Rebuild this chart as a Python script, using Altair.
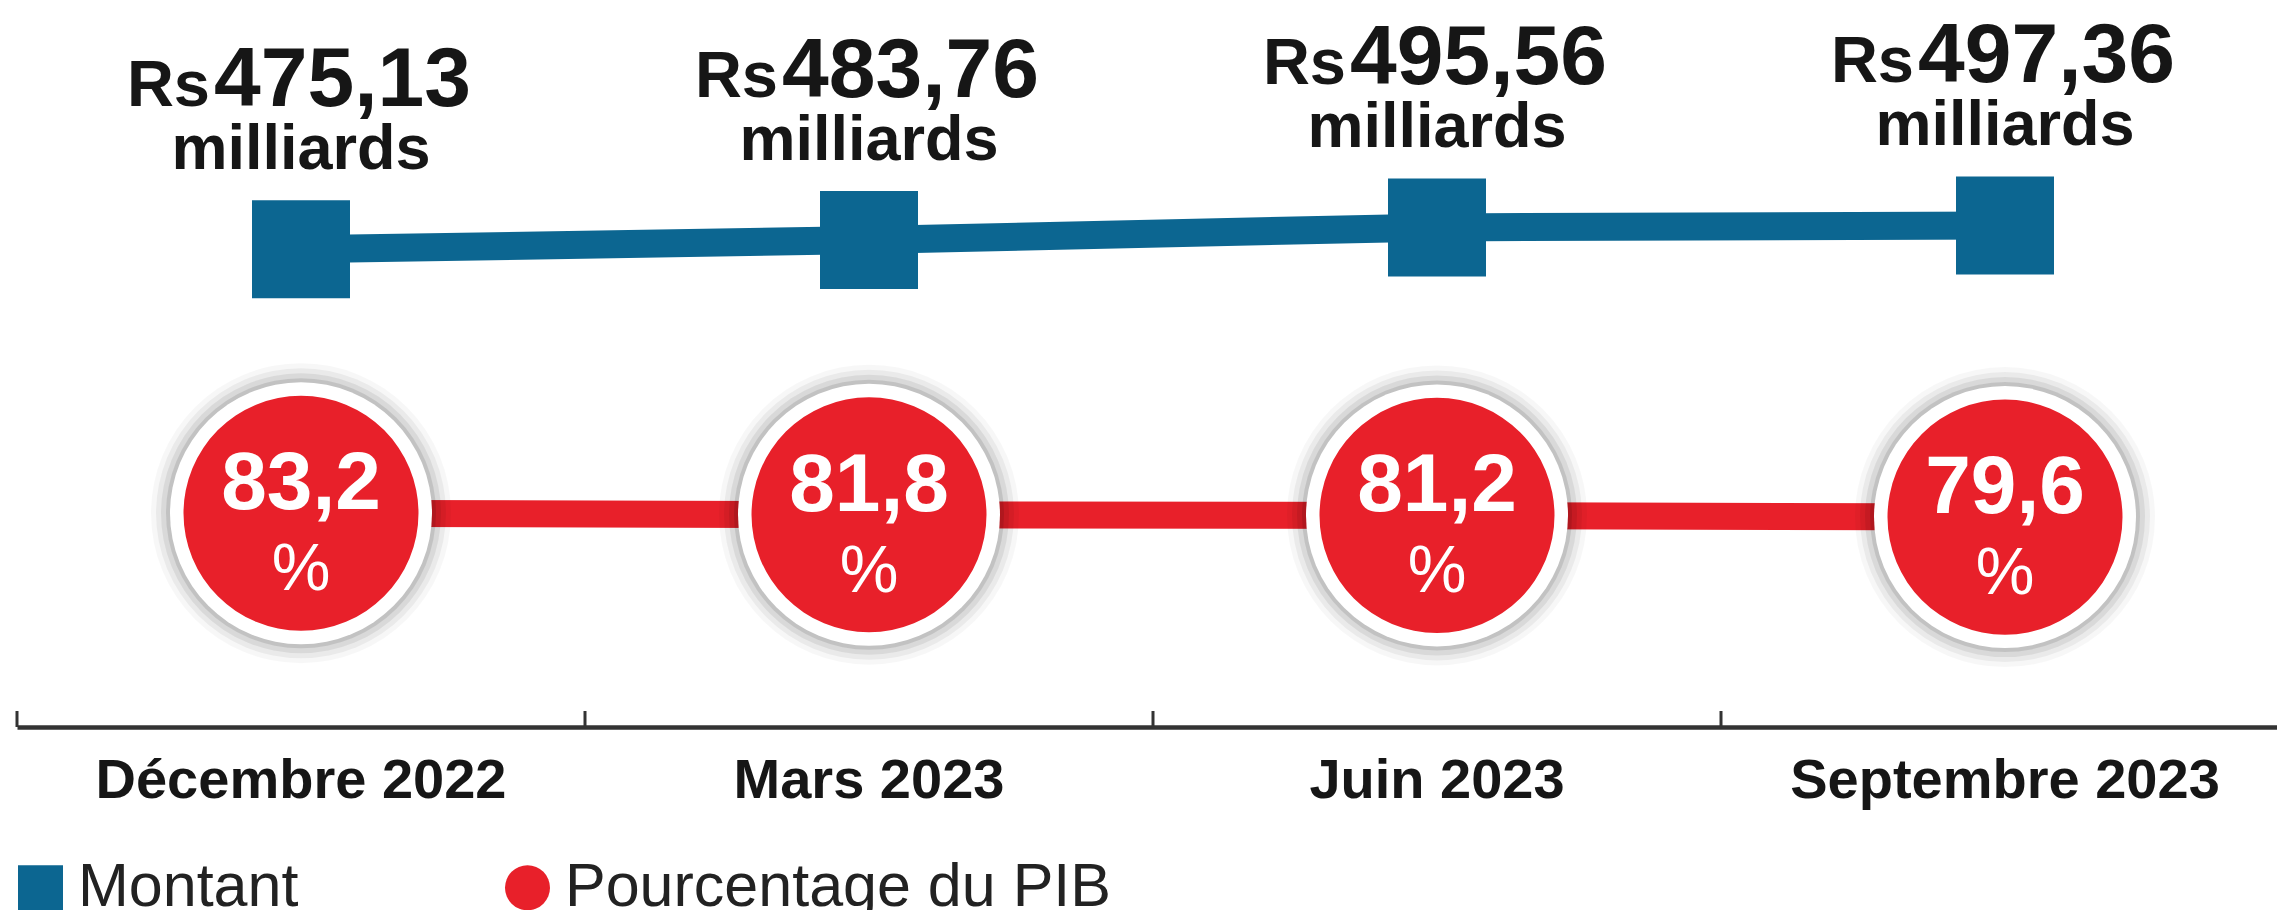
import altair as alt
import pandas as pd

# ---- data ----
periods = ["Décembre 2022", "Mars 2023", "Juin 2023", "Septembre 2023"]
montant = [475.13, 483.76, 495.56, 497.36]          # Rs milliards
pct_pib = [83.2, 81.8, 81.2, 79.6]                   # % du PIB
series_names = ["Montant", "Pourcentage du PIB"]

BLUE = "#0c6691"
RED = "#e8202a"
DARK = "#161616"
FONT = "Liberation Sans"

def fr(v, d):
    return f"{v:.{d}f}".replace(".", ",")

df = pd.DataFrame({
    "period": periods,
    "montant": montant,
    "pct": pct_pib,
    "montant_lbl": [fr(v, 2) for v in montant],
    "pct_lbl": [fr(v, 1) for v in pct_pib],
})

long_df = pd.DataFrame({
    "period": periods * 2,
    "series": [series_names[0]] * 4 + [series_names[1]] * 4,
    "value": montant + pct_pib,
})

x_axis = alt.Axis(
    title=None, labelAngle=0, labelFont=FONT, labelFontWeight="bold",
    labelFontSize=56, labelColor=DARK, labelPadding=70, labelBaseline="alphabetic",
    ticks=False, tickSize=0, domainColor="#333333", domainWidth=4.5, grid=False,
    labelLimit=1000,
)
x_scale = alt.Scale(range=[0, 2272], paddingInner=0, paddingOuter=0)
X = alt.X("period:N", sort=periods, scale=x_scale, axis=x_axis)

y_m = alt.Y("montant:Q", scale=alt.Scale(domain=[30, 700], nice=False, zero=False), axis=None)
y_p = alt.Y("pct:Q", scale=alt.Scale(domain=[-116, 554], nice=False, zero=False), axis=None)

base = alt.Chart(df)

ticks = base.mark_rule(color="#333333", strokeWidth=3).encode(
    x=alt.X("period:N", sort=periods, scale=x_scale, axis=x_axis, bandPosition=0),
    y=alt.value(703), y2=alt.value(719),
)

blue_line = base.mark_line(color=BLUE, strokeWidth=28).encode(x=X, y=y_m)
blue_sq = base.mark_point(shape="square", filled=True, color=BLUE, opacity=1, size=9604).encode(x=X, y=y_m)

rs_txt = base.mark_text(text="Rs", font=FONT, fontWeight="bold", fontSize=65, color=DARK,
                        align="right", baseline="alphabetic", dx=-91, dy=-143).encode(x=X, y=y_m)
num_txt = base.mark_text(font=FONT, fontWeight="bold", fontSize=84, color=DARK,
                         align="left", baseline="alphabetic", dx=-87, dy=-143).encode(
    x=X, y=y_m, text="montant_lbl:N")
mil_txt = base.mark_text(text="milliards", font=FONT, fontWeight="bold", fontSize=63, color=DARK,
                         align="center", baseline="alphabetic", dy=-80).encode(x=X, y=y_m)

red_line = base.mark_line(color=RED, strokeWidth=27).encode(x=X, y=y_p)
shadows = [
    base.mark_point(shape="circle", filled=True, color="#000000", opacity=op, size=d * d).encode(x=X, y=y_p)
    for d, op in [(300, 0.03), (290, 0.05), (280, 0.07), (270, 0.10)]
]
white_c = base.mark_point(shape="circle", filled=True, color="#ffffff", opacity=1, size=262 * 262).encode(x=X, y=y_p)
red_c = base.mark_point(shape="circle", filled=True, color=RED, opacity=1, size=235 * 235).encode(x=X, y=y_p)
pct_txt = base.mark_text(font=FONT, fontWeight="bold", fontSize=82, color="#ffffff",
                         align="center", baseline="alphabetic", dy=-4).encode(x=X, y=y_p, text="pct_lbl:N")
pc_sign = base.mark_text(text="%", font=FONT, fontWeight="normal", fontSize=66, color="#ffffff",
                         align="center", baseline="alphabetic", dy=77).encode(x=X, y=y_p)

leg = alt.Legend(
    orient="none", legendX=-7, legendY=849, direction="horizontal", title=None,
    labelFont=FONT, labelFontSize=61, labelColor="#222222", labelLimit=1000,
    symbolSize=2025, symbolOpacity=1, symbolStrokeWidth=0, labelOffset=7,
    columnPadding=198, padding=0,
)
legend_layer = alt.Chart(long_df).mark_point(filled=True, opacity=0).encode(
    x=X,
    y=alt.Y("value:Q", axis=None),
    color=alt.Color("series:N", scale=alt.Scale(domain=series_names, range=[BLUE, RED]), legend=leg),
    shape=alt.Shape("series:N", scale=alt.Scale(domain=series_names, range=["square", "circle"]), legend=leg),
)

chart = alt.layer(
    ticks, blue_line, blue_sq, rs_txt, num_txt, mil_txt,
    red_line, *shadows, white_c, red_c, pct_txt, pc_sign, legend_layer,
).resolve_scale(y="independent").properties(
    width=2260, height=719,
    padding={"left": 9, "top": 0, "right": 0, "bottom": 183},
    autosize=alt.AutoSizeParams(type="none"),
    background="#ffffff",
).configure_view(stroke=None)

chart.save("out.html", embed_options={"renderer": "svg", "actions": False})
